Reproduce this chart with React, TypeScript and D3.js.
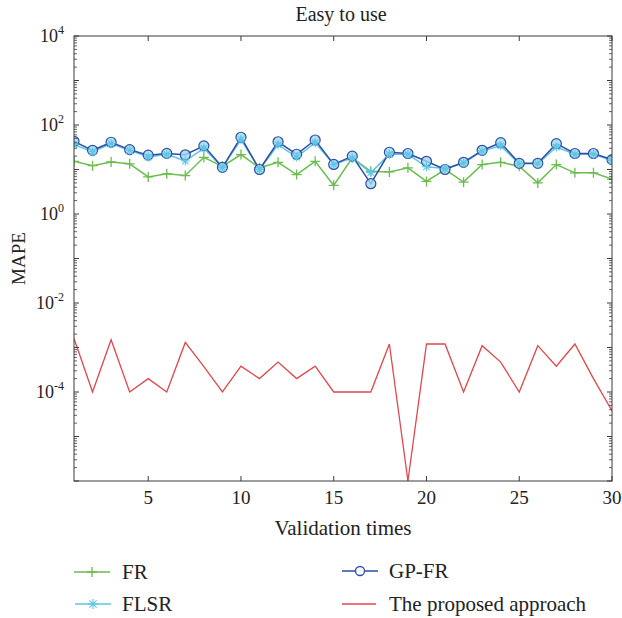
import React from "react";
import * as d3 from "d3";

const runs = d3.range(1, 31);
const frValues = [15.3, 12.2, 14.8, 13.4, 6.8, 8, 7.3, 18.8, 11.8, 21.7, 10.9, 14.5, 7.7, 15.3, 4.4, 18.3, 9.1, 8.8, 10.9, 5.4, 10, 5.2, 12.9, 14.5, 11.8, 5.0, 12.9, 8.4, 8.4, 6.1];
const flsrValues = [36, 25, 38, 27, 19, 22, 15.5, 30, 11, 47, 10, 36, 19, 40, 13, 18, 8.5, 22, 22, 11.5, 10.5, 14, 26, 34, 13.5, 13.5, 32, 22, 22, 16];
const gpfrValues = [43, 27, 41, 28, 21, 23, 21.4, 34, 11.2, 53, 10, 42, 22, 46, 13, 20, 4.8, 24.4, 22.9, 15.3, 10, 14.5, 27, 40, 13.8, 13.8, 38, 22.9, 22.9, 16.7];
const proposedValues = [1.6e-3, 1e-4, 1.5e-3, 1e-4, 2e-4, 1e-4, 1.3e-3, 3.7e-4, 1e-4, 3.8e-4, 2e-4, 4.7e-4, 2e-4, 3.8e-4, 1e-4, 1e-4, 1e-4, 1.2e-3, 1e-6, 1.2e-3, 1.2e-3, 1e-4, 1.1e-3, 4.7e-4, 1e-4, 1.1e-3, 3.8e-4, 1.2e-3, 2e-4, 3.8e-5];
const xTicks = [5, 10, 15, 20, 25, 30];
const yLabelExps = [4, 2, 0, -2, -4];
const legendNames = ["FR", "FLSR", "GP-FR", "The proposed approach"];

const W = 622, H = 618;
const L = 74, R = 612, T = 36, B = 481;
const FONT = "'Liberation Serif', 'DejaVu Serif', serif";
const GREEN = "#6bbd4f";
const CYAN = "#5cc6e6";
const BLUE = "#2e4ea6";
const RED = "#e0474c";
const AX = "#3a3a3a";

const x = d3.scaleLinear().domain([1, 30]).range([L, R]);
const y = d3.scaleLog().domain([1e-6, 1e4]).range([B, T]);

function Plus({ cx, cy, s = 5, color }: any) {
  return <path d={`M${cx - s},${cy}H${cx + s}M${cx},${cy - s}V${cy + s}`} stroke={color} strokeWidth={1.3} fill="none" />;
}
function Star({ cx, cy, s = 5, color }: any) {
  const d = s * 0.72;
  return <path d={`M${cx - s},${cy}H${cx + s}M${cx},${cy - s}V${cy + s}M${cx - d},${cy - d}L${cx + d},${cy + d}M${cx - d},${cy + d}L${cx + d},${cy - d}`} stroke={color} strokeWidth={1.1} fill="none" />;
}

export default function App() {
  const line = d3.line<number>().x((_, i) => x(runs[i])).y((v) => y(Math.max(v, 1e-6)));
  const majorY = d3.range(-6, 5);
  const minorY: number[] = [];
  for (let e = -6; e < 4; e++) for (let k = 2; k <= 9; k++) minorY.push(k * Math.pow(10, e));

  return (
    <svg width={W} height={H} style={{ display: "block", position: "absolute", left: 0, top: 0, background: "#fff" }} fontFamily={FONT}>
      <defs>
        <clipPath id="plotclip"><rect x={L} y={T} width={R - L} height={B - T + 1} /></clipPath>
      </defs>
      <text x={341} y={21} textAnchor="middle" fontSize={20} fill="#222">Easy to use</text>

      <g clipPath="url(#plotclip)">
        <path d={line(frValues) || ""} fill="none" stroke={GREEN} strokeWidth={1.5} />
        {frValues.map((v, i) => <Plus key={"fr" + i} cx={x(runs[i])} cy={y(v)} color={GREEN} />)}
        <path d={line(flsrValues) || ""} fill="none" stroke={CYAN} strokeWidth={1.5} />
        <path d={line(gpfrValues) || ""} fill="none" stroke={BLUE} strokeWidth={1.5} />
        {gpfrValues.map((v, i) => <circle key={"gp" + i} cx={x(runs[i])} cy={y(v)} r={5} fill="#9fd8ee" fillOpacity={0.8} stroke={BLUE} strokeWidth={1.2} />)}
        {flsrValues.map((v, i) => <Star key={"fl" + i} cx={x(runs[i])} cy={y(v)} s={4.5} color={CYAN} />)}
        <path d={line(proposedValues) || ""} fill="none" stroke={RED} strokeWidth={1.3} />
      </g>

      <rect x={L} y={T} width={R - L} height={B - T} fill="none" stroke={AX} strokeWidth={1} />
      {xTicks.map((t) => (
        <g key={"xt" + t}>
          <line x1={x(t)} x2={x(t)} y1={B} y2={B - 5} stroke={AX} />
          <line x1={x(t)} x2={x(t)} y1={T} y2={T + 5} stroke={AX} />
          <text x={x(t)} y={504} textAnchor="middle" fontSize={19} fill="#222">{t}</text>
        </g>
      ))}
      {majorY.map((e) => (
        <g key={"ym" + e}>
          <line x1={L} x2={L + 5} y1={y(Math.pow(10, e))} y2={y(Math.pow(10, e))} stroke={AX} />
          <line x1={R} x2={R - 5} y1={y(Math.pow(10, e))} y2={y(Math.pow(10, e))} stroke={AX} />
        </g>
      ))}
      {minorY.map((v, i) => (
        <g key={"yn" + i}>
          <line x1={L} x2={L + 3} y1={y(v)} y2={y(v)} stroke={AX} strokeWidth={0.8} />
          <line x1={R} x2={R - 3} y1={y(v)} y2={y(v)} stroke={AX} strokeWidth={0.8} />
        </g>
      ))}
      {yLabelExps.map((e) => (
        <text key={"yl" + e} x={64} y={y(Math.pow(10, e)) + 6} textAnchor="end" fontSize={18} fill="#222">
          10<tspan fontSize={12} dy={-8}>{e}</tspan>
        </text>
      ))}
      <text transform={`translate(25,${(T + B) / 2}) rotate(-90)`} textAnchor="middle" fontSize={19} fill="#222">MAPE</text>
      <text x={343} y={535} textAnchor="middle" fontSize={21} fill="#222">Validation times</text>

      <line x1={74} x2={110} y1={572} y2={572} stroke={GREEN} strokeWidth={1.5} />
      <Plus cx={92} cy={572} color={GREEN} />
      <text x={122} y={579} fontSize={21} fill="#222">{legendNames[0]}</text>

      <line x1={75} x2={111} y1={604} y2={604} stroke={CYAN} strokeWidth={1.5} />
      <Star cx={93} cy={604} s={5} color={CYAN} />
      <text x={122} y={611} fontSize={21} fill="#222">{legendNames[1]}</text>

      <line x1={342} x2={378} y1={571} y2={571} stroke={BLUE} strokeWidth={1.5} />
      <circle cx={360} cy={571} r={4.5} fill="#fff" stroke={BLUE} strokeWidth={1.3} />
      <text x={389} y={578} fontSize={21} fill="#222">{legendNames[2]}</text>

      <line x1={342} x2={376} y1={604} y2={604} stroke={RED} strokeWidth={1.5} />
      <text x={389} y={611} fontSize={21} fill="#222">{legendNames[3]}</text>
    </svg>
  );
}
